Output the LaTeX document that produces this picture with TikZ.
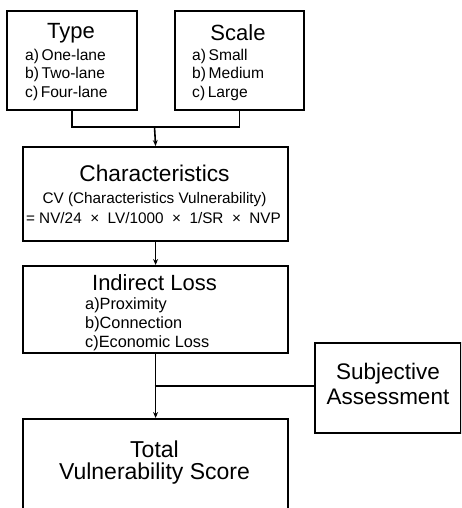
\documentclass[tikz,border=0pt]{standalone}
\usepackage{fontspec}
\setmainfont{Liberation Sans}
\usetikzlibrary{arrows.meta}
\begin{document}
\begin{tikzpicture}[x=1pt,y=-1pt,
  box/.style={draw,line width=2.2pt,inner sep=0pt,anchor=north west},
  conn/.style={line width=1.6pt},
  arr/.style={line width=1.6pt,-{Stealth[length=6pt,width=5pt]}},
  ttl/.style={font=\fontsize{22}{24}\selectfont,inner sep=0pt},
  itm/.style={font=\fontsize{15.6}{17}\selectfont,inner sep=0pt,anchor=west},
  itms/.style={font=\fontsize{16.3}{18}\selectfont,inner sep=0pt,anchor=west},
  ftx/.style={font=\fontsize{15.3}{17}\selectfont,inner sep=0pt}]
\useasboundingbox (0,0) rectangle (461,508);
\clip (0,0) rectangle (461,508);
% boxes
\node[box,minimum width=130pt,minimum height=99pt] (type) at (6,10) {};
\node[box,minimum width=129pt,minimum height=99pt] (scale) at (174,10) {};
\node[box,minimum width=265pt,minimum height=94pt] (char) at (22,146) {};
\node[box,minimum width=265pt,minimum height=87pt] (ind) at (22,265) {};
\node[box,minimum width=146pt,minimum height=90pt] (subj) at (314,342) {};
\node[box,minimum width=265pt,minimum height=110pt] (tot) at (22,418) {};
% texts
\node[ttl] (typet) at (71,33) {Type};
\node[itm] (t1) at (25,56) {a)\,One-lane};
\node[itm] (t2) at (25,74.5) {b)\,Two-lane};
\node[itm] (t3) at (25,93) {c)\,Four-lane};
\node[ttl] (scalet) at (238,33) {Scale};
\node[itm] (s1) at (192,56) {a)\,Small};
\node[itm] (s2) at (192,74.5) {b)\,Medium};
\node[itm] (s3) at (192,93) {c)\,Large};
\node[ttl,font=\fontsize{22.7}{25}\selectfont] (chart) at (154.5,173) {Characteristics};
\node[ftx] (cv) at (154.5,200) {CV (Characteristics Vulnerability)};
\node[ftx] (cvf) at (153.5,218.5) {=\ NV/24\ \ ×\ \ LV/1000\ \ ×\ \ 1/SR\ \ ×\ \ NVP};
\node[ttl] (indt) at (154.5,283) {Indirect Loss};
\node[itms] (i1) at (85,305) {a)Proximity};
\node[itms] (i2) at (85,324) {b)Connection};
\node[itms] (i3) at (85,343) {c)Economic Loss};
\node[ttl,font=\fontsize{22.5}{25}\selectfont] (sj1) at (388,374) {Subjective};
\node[ttl,font=\fontsize{22.5}{25}\selectfont] (sj2) at (388,397) {Assessment};
\node[ttl,font=\fontsize{23}{25}\selectfont] (tt1) at (154.5,449) {Total};
\node[ttl,font=\fontsize{23}{25}\selectfont] (tt2) at (154.5,474) {Vulnerability Score};
% connectors
\coordinate (j1) at (154.5,127);
\coordinate (j2) at (154.5,386);
\draw[conn] (type.south) |- (j1) -| (scale.south);
\draw[arr] (j1) -- (char.north);
\draw[arr] (char.south) -- (ind.north);
\draw[arr] (ind.south) -- (tot.north);
\draw[conn] (j2) -- (subj.west |- j2);
\end{tikzpicture}
\end{document}
